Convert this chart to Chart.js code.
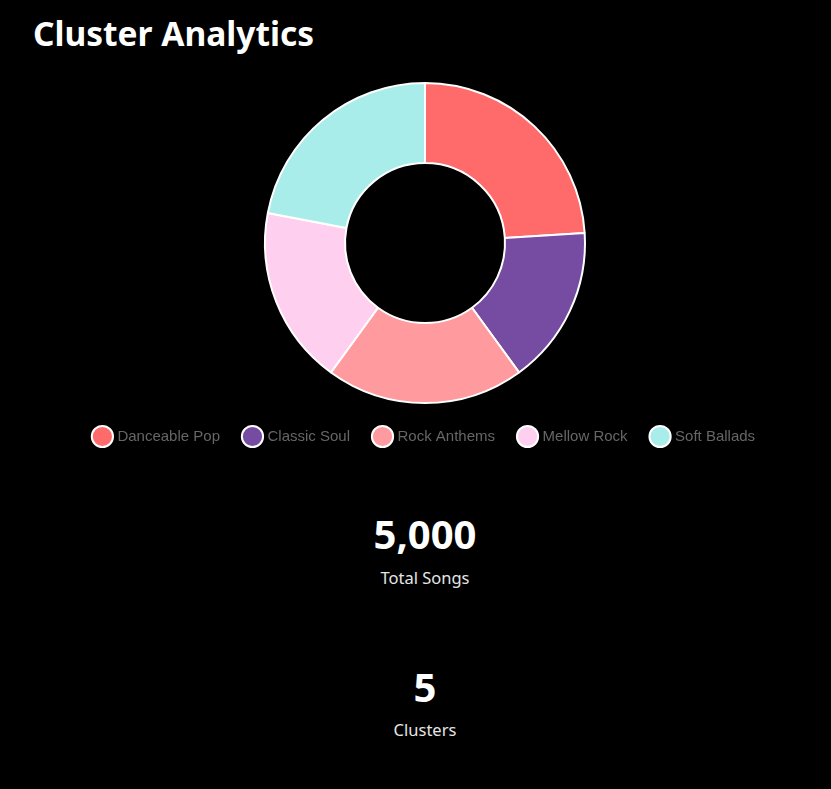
<!DOCTYPE html>
<html>
<head>
<meta charset="utf-8">
<script src="https://cdn.jsdelivr.net/npm/chart.js@4"></script>
<style>
  html, body { margin: 0; padding: 0; background: #000; width: 831px; height: 789px; overflow: hidden; }
  body { font-family: "Segoe UI", "Noto Sans", "Open Sans", sans-serif; color: #fff; position: relative; }
  h1 { position: absolute; left: 33px; top: 17px; margin: 0; font-size: 33.5px; font-weight: 700; line-height: 1; color: #fff; white-space: nowrap; }
  #wrap { position: absolute; left: 20px; top: 0; width: 810px; height: 454px; }
  .stat { position: absolute; left: 0; width: 850px; text-align: center; line-height: 1; white-space: nowrap; }
  .num { font-size: 40px; font-weight: 700; color: #fff; }
  .lbl { font-size: 16.5px; color: #e6e6e6; }
</style>
</head>
<body>
<h1>Cluster Analytics</h1>
<div id="wrap"><canvas id="c"></canvas></div>
<div class="stat num" id="totalNum" style="top:514px"></div>
<div class="stat lbl" style="top:570px">Total Songs</div>
<div class="stat num" id="clusterNum" style="top:667px"></div>
<div class="stat lbl" style="top:722px">Clusters</div>
<script>
const categories = ["Danceable Pop", "Classic Soul", "Rock Anthems", "Mellow Rock", "Soft Ballads"];
const songCounts = [1200, 800, 1000, 900, 1100];
const sliceColors = ["#FF6B6B", "#764BA2", "#FF9A9E", "#FECFEF", "#A8EDEA"];

const total = songCounts.reduce((a, b) => a + b, 0);
document.getElementById('totalNum').textContent = total.toLocaleString('en-US');
document.getElementById('clusterNum').textContent = String(categories.length);

new Chart(document.getElementById('c'), {
  type: 'doughnut',
  data: {
    labels: categories,
    datasets: [{
      data: songCounts,
      backgroundColor: sliceColors,
      borderColor: '#ffffff',
      borderWidth: 2
    }]
  },
  options: {
    responsive: true,
    maintainAspectRatio: false,
    animation: false,
    cutout: '50%',
    layout: { padding: { top: 82 } },
    plugins: {
      legend: {
        position: 'bottom',
        labels: {
          usePointStyle: true,
          pointStyle: 'circle',
          color: '#666',
          padding: 25,
          font: { family: '"Liberation Sans", Arial, sans-serif', size: 15 }
        }
      },
      tooltip: { enabled: false }
    }
  }
});
</script>
</body>
</html>
